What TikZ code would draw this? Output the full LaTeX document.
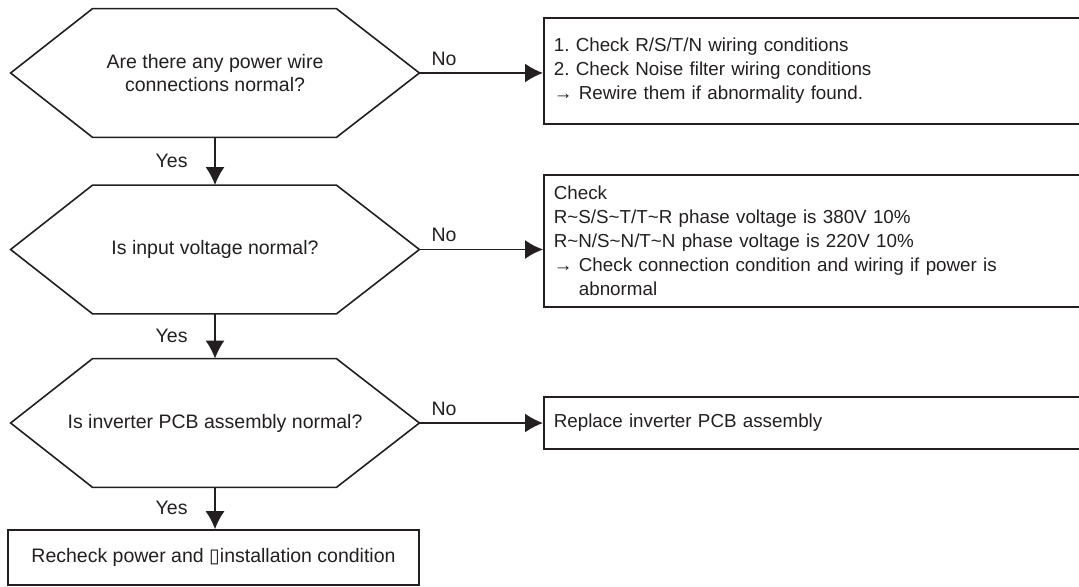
\documentclass[tikz,border=0pt]{standalone}
\usepackage{fontspec}
\setmainfont{Liberation Sans}
\newfontfamily\boxglyph{DejaVu Sans}
\usetikzlibrary{arrows.meta}
\definecolor{ink}{RGB}{35,31,32}
\frenchspacing

\begin{document}
\begin{tikzpicture}[
                >={Latex[length=9pt,width=9.5pt]},
                x=0.5pt,
                y=-0.5pt,
                every node/.style={font=\fontsize{9.75}{11.5}\selectfont, text=ink},
                decision/.style={minimum width=204pt, minimum height=64pt, inner sep=0pt, align=center},
                action/.style={draw=ink, line width=0.8pt, anchor=west, inner xsep=5pt,
                               text width=270pt, align=left, font=\fontsize{9.4}{12}\selectfont},
                outcome/.style={draw=ink, line width=0.8pt, minimum width=205.5pt, minimum height=27.5pt},
                flow/.style={draw=ink, line width=0.8pt, ->}
            ]

            \useasboundingbox (0,0) rectangle (1079,587);
            \clip (0,0) rectangle (1079,587);

            % decisions
            \node[decision] (q1) at (215,73) {Are there any power wire\\connections normal?};
            \node[decision] (q2) at (215,249.5) {Is input voltage normal?};
            \node[decision] (q3) at (215,423) {Is inverter PCB assembly normal?};

            \foreach \q in {q1,q2,q3}
                \draw[draw=ink, line width=0.8pt] (\q.west) -- ([xshift=41pt]\q.north west) -- ([xshift=-41.5pt]\q.north east)
                    -- (\q.east) -- ([xshift=-41.5pt]\q.south east) -- ([xshift=41pt]\q.south west) -- cycle;

            % actions
            \node[action, minimum height=53pt] (a1) at (543,71) {1. Check R/S/T/N wiring conditions\\
                2. Check Noise filter wiring conditions\\
                → Rewire them if abnormality found.};
            \node[action, minimum height=66pt] (a2) at (543,241) {Check\\
                R\textasciitilde S/S\textasciitilde T/T\textasciitilde R phase voltage is 380V 10\%\\
                R\textasciitilde N/S\textasciitilde N/T\textasciitilde N phase voltage is 220V 10\%\\
                → Check connection condition and wiring if power is\\
                \phantom{→ }abnormal};
            \node[action, minimum height=26pt] (a3) at (543,423) {Replace inverter PCB assembly};

            \node[outcome] (done) at (213.5,557.5) {Recheck power and {\boxglyph ▯}installation condition};

            % connectors
            \draw[flow] (q1.south) -- node[left=10pt] {Yes} (q2.north);
            \draw[flow] (q2.south) -- node[left=10pt] {Yes} (q3.north);
            \draw[flow] (q3.south) -- node[left=10pt] {Yes} (q3.south |- done.north);

            \draw[flow] (q1.east) -- node[pos=0.2, above] {No} (q1.east -| a1.west);
            \draw[flow] (q2.east) -- node[pos=0.2, above] {No} (q2.east -| a2.west);
            \draw[flow] (q3.east) -- node[pos=0.2, above] {No} (q3.east -| a3.west);

            \end{tikzpicture}
\end{document}
